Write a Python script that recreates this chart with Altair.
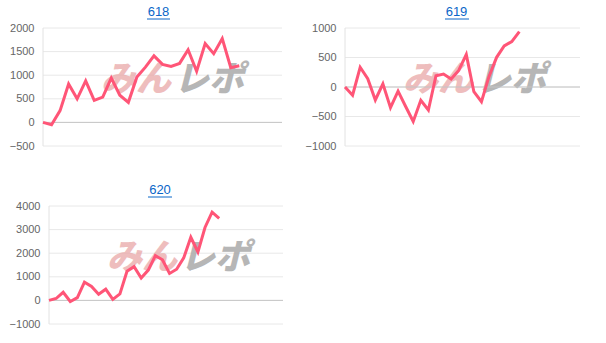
import altair as alt
import pandas as pd

# ---- data ----
titles = ["618", "619", "620"]
v618 = [0, -50, 250, 815, 500, 880, 465, 535, 940, 575, 425, 960, 1170, 1410,
        1230, 1185, 1250, 1540, 1085, 1670, 1455, 1775, 1160, 1200]
v619 = [0, -140, 335, 140, -220, 55, -350, -70, -330, -585, -225, -390, 190, 220,
        135, 280, 550, -80, -248, 180, 503, 695, 770, 940]
v620 = [0, 80, 345, -45, 120, 770, 590, 265, 475, 45, 275, 1235, 1430, 945,
        1285, 1895, 1720, 1140, 1320, 1800, 2675, 2050, 3090, 3740, 3475]
slots = [28, 31, 33]                 # x-axis slot count of each panel
y_ranges = [(-500, 2000, 500), (-1000, 1000, 500), (-1000, 4000, 1000)]
mark_pink = ["みん"]
mark_gray = ["レポ"]

RED = "#ff5577"
BLUE = "#0a66c8"
FONT = "Liberation Sans"


def panel(name, values, xmax, yr, width, xlo, lpad, dx, ul, wx):
    ymin, ymax, step = yr
    ticks = list(range(ymin, ymax + 1, step))
    df = pd.DataFrame({"i": list(range(len(values))), "v": values})
    yscale = alt.Scale(domain=[ymin, ymax], nice=False)
    xscale = alt.Scale(domain=[xlo, xmax], nice=False, zero=False)
    yaxis = alt.Axis(
        values=ticks, format="d", title=None, grid=False, domain=False,
        ticks=False, labelPadding=lpad, labelColor="#666666", labelFontSize=11,
        labelFont=FONT, minExtent=43, maxExtent=43, labelFlush=False,
        labelOverlap=False,
    )
    X = lambda f: alt.X(f, scale=xscale, axis=None)
    Y = lambda f: alt.Y(f, scale=yscale, axis=yaxis)

    grid = alt.Chart(pd.DataFrame({"v": ticks, "a": 0, "b": xmax})).mark_rule(
        color="#e8e8e8", strokeWidth=1).encode(y=Y("v:Q"), x=X("a:Q"), x2="b:Q")
    edge = alt.Chart(pd.DataFrame({"a": [0], "lo": [ymin], "hi": [ymax]})).mark_rule(
        color="#e2e2e2", strokeWidth=1).encode(x=X("a:Q"), y=Y("lo:Q"), y2="hi:Q")
    wm1 = alt.Chart(pd.DataFrame({"t": mark_pink})).mark_text(
        font="Noto Sans CJK JP", fontSize=35, fontWeight=900, fontStyle="italic",
        color="#e9a7a7", opacity=0.75,
    ).encode(text="t:N", x=alt.value(wx[0]), y=alt.value(52))
    wm2 = alt.Chart(pd.DataFrame({"t": mark_gray})).mark_text(
        font="Noto Sans CJK JP", fontSize=35, fontWeight=900, fontStyle="italic",
        color="#aaaaaa", opacity=0.85,
    ).encode(text="t:N", x=alt.value(wx[1]), y=alt.value(52))
    zero = alt.Chart(pd.DataFrame({"v": [0], "a": [0], "b": [xmax]})).mark_rule(
        color="#c6c6c6", strokeWidth=1).encode(y=Y("v:Q"), x=X("a:Q"), x2="b:Q")
    line = alt.Chart(df).mark_line(color=RED, strokeWidth=3).encode(x=X("i:Q"), y=Y("v:Q"))
    under = alt.Chart(pd.DataFrame({"t": [name]})).mark_rule(color=BLUE, strokeWidth=1).encode(
        x=alt.value(ul[0]), x2=alt.value(ul[1]), y=alt.value(-9)
    )
    return alt.layer(grid, edge, wm1, wm2, zero, line, under).properties(
        width=width, height=118,
        title=alt.TitleParams(name, fontSize=13, color=BLUE, font=FONT, fontWeight="normal",
                              offset=0, dx=dx, anchor="middle", frame="group"),
    )


p1 = panel(titles[0], v618, slots[0], y_ranges[0], 239, 0, 9, -4, (104, 127), (93, 166))
p2 = panel(titles[1], v619, slots[1], y_ranges[1], 235, 0, 9, -6, (100, 124), (93, 166))
# third panel: its left edge sits 6px further right than the first panel's
p3 = panel(titles[2], v620, slots[2], y_ranges[2], 240, -6 * 33 / 234, 3, -3,
           (105, 129), (99, 172))

chart = alt.concat(
    p1, p2, p3, columns=2, align="none",
    spacing={"row": 32, "column": 18},
).properties(
    padding={"left": 0, "top": 5, "right": 0, "bottom": 0},
).configure_view(stroke=None)

chart.save("out.html", embed_options={"renderer": "svg", "actions": False})
